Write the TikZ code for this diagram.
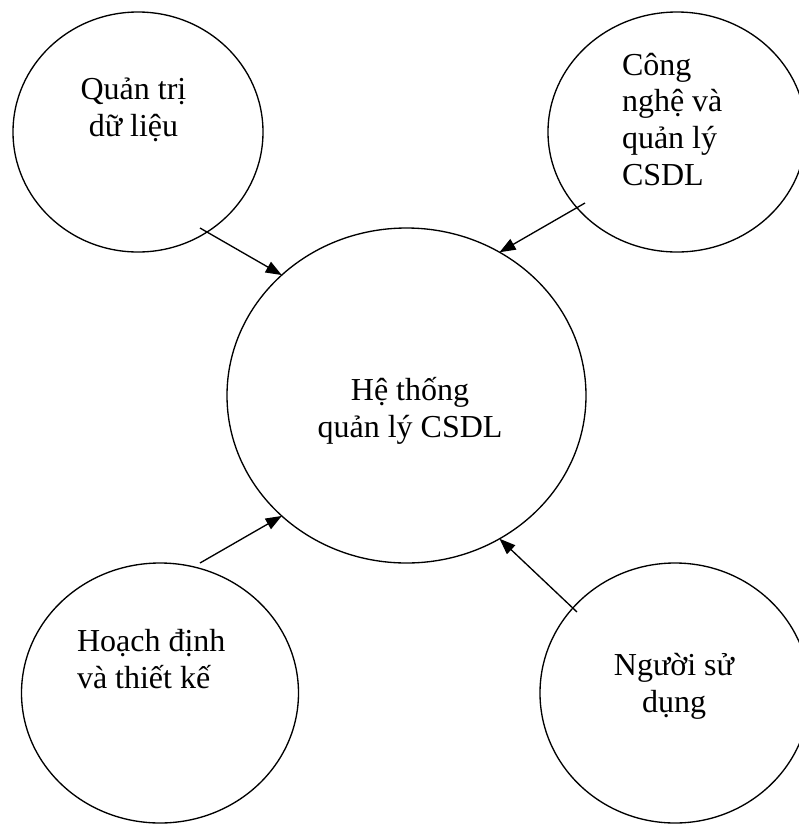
\documentclass[tikz,border=0pt]{standalone}
\usepackage{fontspec}
\setmainfont{Liberation Serif}
\usetikzlibrary{shapes.geometric,arrows.meta}

\begin{document}
\begin{tikzpicture}[
    x=0.75pt, y=-0.75pt,
    bubble/.style={ellipse, draw, line width=1pt, inner sep=0pt, outer sep=0pt},
    caption/.style={inner sep=0pt, outer sep=0pt,
      font=\fontsize{24pt}{27.5pt}\selectfont},
    feed/.style={line width=1pt, -{Triangle[length=12pt, width=9pt]}}
  ]
  \useasboundingbox (0,0) rectangle (799,826);

  % central system and the four surrounding areas
  \node[bubble, minimum width=269.25pt, minimum height=251.25pt] (hub) at (406.5,395.5) {};
  \node[bubble, minimum width=187.5pt, minimum height=180pt] (qt) at (138,132) {};
  \node[bubble, minimum width=193.5pt, minimum height=180pt] (cn) at (677,132) {};
  \node[bubble, minimum width=207.75pt, minimum height=195pt] (hd) at (160,693) {};
  \node[bubble, minimum width=202.5pt, minimum height=195pt] (nsd) at (675,693) {};

  % labels (anchored on the baseline of their last line)
  \node[caption, align=center, anchor=base] (thub) at (410,437) {Hệ thống\\quản lý CSDL};
  \node[caption, align=center, anchor=base] (tqt) at (133.5,136.5) {Quản trị\\dữ liệu};
  \node[caption, align=left, anchor=base west] (tcn) at (622,185) {Công\\nghệ và\\quản lý\\CSDL};
  \node[caption, align=left, anchor=base west] (thd) at (77,688) {Hoạch định\\và thiết kế};
  \node[caption, align=center, anchor=base] (tnsd) at (674,712) {Người sử\\dụng};

  % arrow tails, inside each outer bubble
  \coordinate (s1) at (200,228);
  \coordinate (s2) at (585,203);
  \coordinate (s3) at (200,563);
  \coordinate (s4) at (577,612);

  \draw[feed] (s1) -- (hub.136.6);
  \draw[feed] (s2) -- (hub.57.8);
  \draw[feed] (s3) -- (hub.-136.4);
  \draw[feed] (s4) -- (hub.-57.9);
\end{tikzpicture}
\end{document}
